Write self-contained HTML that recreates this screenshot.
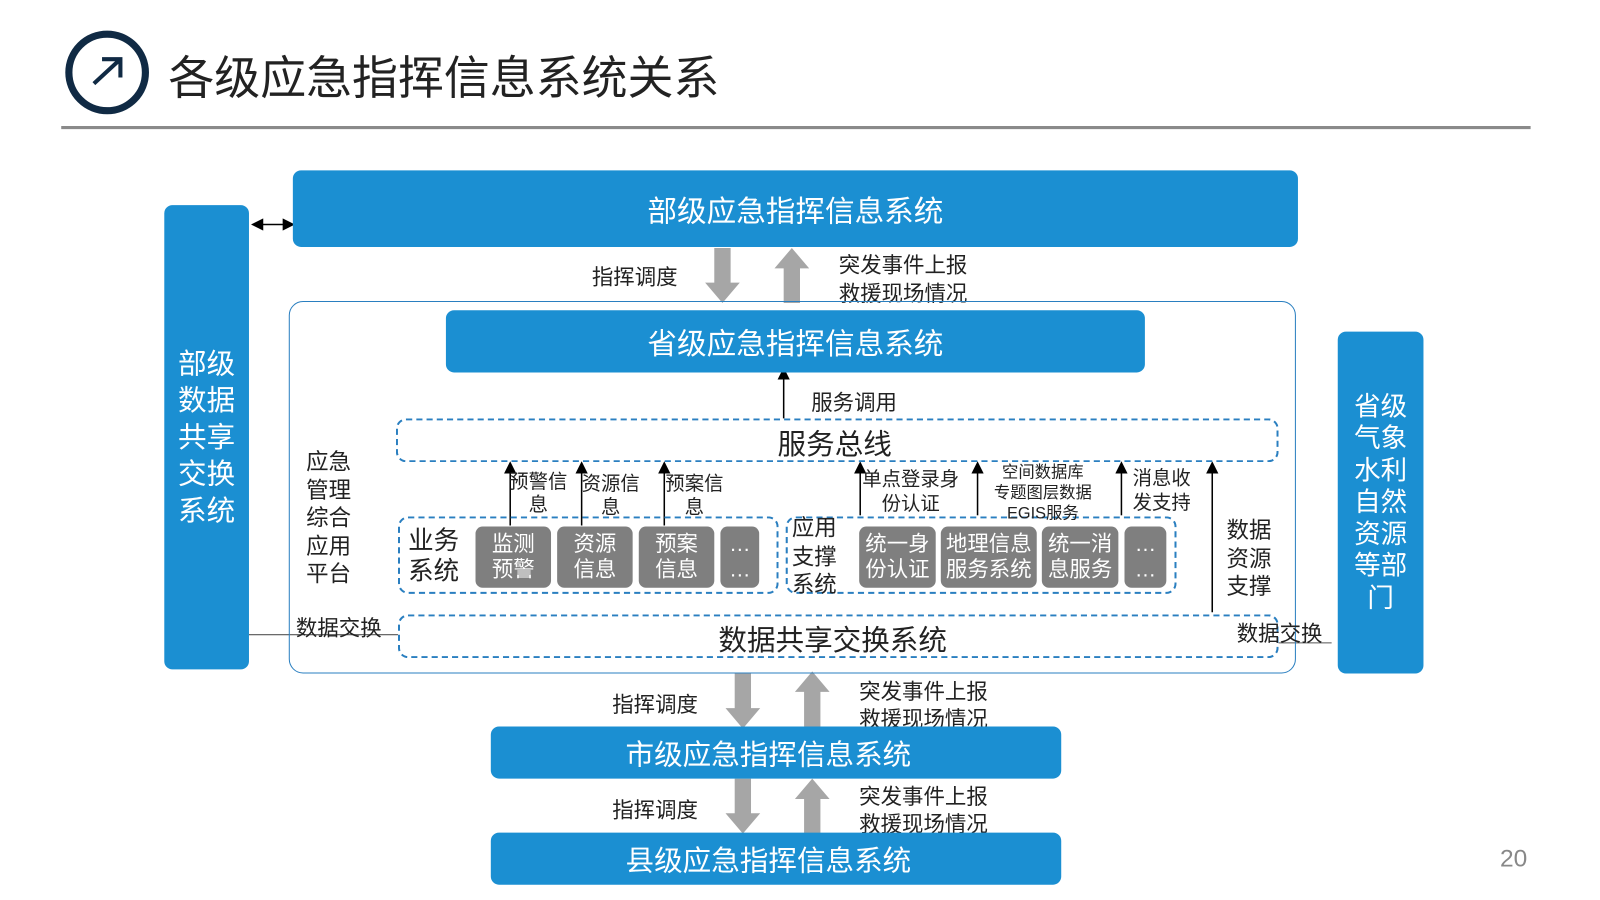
<!DOCTYPE html>
<html><head><meta charset="utf-8"><style>
html,body{margin:0;padding:0;background:#fff;overflow:hidden}
#w{position:relative;width:1568px;height:882px;transform:scale(1.020408);transform-origin:0 0;font-family:"Liberation Sans","Noto Sans CJK SC",sans-serif;color:#222}
.a{position:absolute}
.blue{position:absolute;background:#1b8fd2;border-radius:8px;color:#fff;display:flex;align-items:center;justify-content:center}
.dash{position:absolute;border:2.5px dashed #2a7fc0;border-radius:10px;box-sizing:border-box}
.g{position:absolute;background:#7f7f7f;color:#fff;border-radius:7px;font-size:21px;line-height:25px;text-align:center;display:flex;align-items:center;justify-content:center;top:516px;height:60px}
.t{position:absolute;white-space:nowrap}
</style></head><body><div id="w">
<div class="a" style="left:64px;top:30px;width:68px;height:68px;border:7px solid #102a44;border-radius:50%"></div>
<svg class="a" style="left:0;top:0" width="1568" height="882">
<path d="M92 82 L118 58 M100 58 L118 58 L118 76" stroke="#102a44" stroke-width="4" fill="none"/>
<line x1="60" y1="125" x2="1500" y2="125" stroke="#8a8a8a" stroke-width="3"/>
<defs><marker id="m" markerWidth="8" markerHeight="8" refX="4" refY="4" orient="auto"><path d="M0,0 L8,4 L0,8z" fill="#000"/></marker>
<marker id="m2" markerWidth="8" markerHeight="8" refX="4" refY="4" orient="auto-start-reverse"><path d="M0,0 L8,4 L0,8z" fill="#000"/></marker></defs>
<line x1="252" y1="220" x2="283" y2="220" stroke="#000" stroke-width="1.5" marker-end="url(#m2)" marker-start="url(#m2)"/>
<g fill="#a6a6a6">
<path d="M700 243h16v34h9l-17 20-17-20h9z"/><path d="M768 297h16v-34h9l-17-20-17 20h9z"/>
<path d="M720 660h16v34h9l-17 20-17-20h9z"/><path d="M788 712h16v-34h9l-17-20-17 20h9z"/>
<path d="M720 763h16v34h9l-17 20-17-20h9z"/><path d="M788 817h16v-34h9l-17-20-17 20h9z"/>
</g>
<g stroke="#000" stroke-width="1.5" marker-end="url(#m)">
<line x1="768" y1="410" x2="768" y2="366"/>
<line x1="500" y1="515" x2="500" y2="458"/><line x1="570" y1="515" x2="570" y2="458"/><line x1="651" y1="515" x2="651" y2="458"/>
<line x1="843" y1="505" x2="843" y2="458"/><line x1="958" y1="505" x2="958" y2="458"/><line x1="1099" y1="505" x2="1099" y2="458"/>
<line x1="1188" y1="600" x2="1188" y2="458"/>
</g>
<line x1="244" y1="622" x2="390" y2="622" stroke="#555" stroke-width="1"/>
<line x1="1253" y1="630" x2="1305" y2="630" stroke="#555" stroke-width="1"/>
</svg>
<div class="t" style="left:165px;top:40px;font-size:45px">各级应急指挥信息系统关系</div>
<div class="blue" style="left:287px;top:167px;width:985px;height:75px;font-size:29px">部级应急指挥信息系统</div>
<div class="blue" style="left:161px;top:201px;width:83px;height:455px;font-size:28px;line-height:36px;text-align:center">部级<br>数据<br>共享<br>交换<br>系统</div>
<div class="t" style="left:580px;top:256px;font-size:21px">指挥调度</div>
<div class="t" style="left:822px;top:247px;font-size:21px;line-height:28px">突发事件上报<br>救援现场情况</div>
<div class="a" style="left:283px;top:295px;width:987px;height:365px;border:1.5px solid #2a7fc0;border-radius:14px;box-sizing:border-box"></div>
<div class="blue" style="left:437px;top:304px;width:685px;height:61px;font-size:29px">省级应急指挥信息系统</div>
<div class="t" style="left:795px;top:379px;font-size:21px">服务调用</div>
<div class="dash" style="left:388px;top:410px;width:865px;height:43px"></div>
<div class="t" style="left:762px;top:414px;font-size:28px">服务总线</div>
<div class="t" style="left:300px;top:439px;font-size:22px;line-height:27.5px">应急<br>管理<br>综合<br>应用<br>平台</div>
<div class="dash" style="left:390px;top:506px;width:373px;height:76px"></div>
<div class="t" style="left:400px;top:515px;font-size:25px;line-height:30px">业务<br>系统</div>
<div class="g" style="left:466px;width:74px">监测<br>预警</div>
<div class="g" style="left:546px;width:74px">资源<br>信息</div>
<div class="g" style="left:626px;width:74px">预案<br>信息</div>
<div class="g" style="left:706px;width:38px">…<br>…</div>
<div class="dash" style="left:770px;top:506px;width:383px;height:76px"></div>
<div class="t" style="left:776px;top:504px;font-size:22px;line-height:27.5px">应用<br>支撑<br>系统</div>
<div class="g" style="left:842px;width:75px">统一身<br>份认证</div>
<div class="g" style="left:922px;width:94px">地理信息<br>服务系统</div>
<div class="g" style="left:1021px;width:75px">统一消<br>息服务</div>
<div class="g" style="left:1102px;width:41px">…<br>…</div>
<div class="t" style="left:499px;top:461px;font-size:19px;line-height:23px;text-align:center">预警信<br>息</div>
<div class="t" style="left:570px;top:463px;font-size:19px;line-height:23px;text-align:center">资源信<br>息</div>
<div class="t" style="left:652px;top:463px;font-size:19px;line-height:23px;text-align:center">预案信<br>息</div>
<div class="t" style="left:845px;top:459px;font-size:19px;line-height:24px;text-align:center">单点登录身<br>份认证</div>
<div class="t" style="left:974px;top:454px;font-size:16px;line-height:20px;text-align:center">空间数据库<br>专题图层数据<br>EGIS服务</div>
<div class="t" style="left:1110px;top:458px;font-size:19px;line-height:24px">消息收<br>发支持</div>
<div class="t" style="left:1202px;top:506px;font-size:22px;line-height:27.5px">数据<br>资源<br>支撑</div>
<div class="dash" style="left:390px;top:602px;width:863px;height:43px"></div>
<div class="t" style="left:704px;top:606px;font-size:28px">数据共享交换系统</div>
<div class="t" style="left:290px;top:600px;font-size:21px">数据交换</div>
<div class="t" style="left:1212px;top:605px;font-size:21px">数据交换</div>
<div class="blue" style="left:1311px;top:325px;width:84px;height:335px;font-size:26px;line-height:31.3px;text-align:center">省级<br>气象<br>水利<br>自然<br>资源<br>等部<br>门</div>
<div class="t" style="left:600px;top:675px;font-size:21px">指挥调度</div>
<div class="t" style="left:842px;top:665px;font-size:21px;line-height:27px">突发事件上报<br>救援现场情况</div>
<div class="blue" style="left:481px;top:712px;width:559px;height:51px;font-size:28px;justify-content:flex-start;padding-left:132px;box-sizing:border-box">市级应急指挥信息系统</div>
<div class="t" style="left:600px;top:778px;font-size:21px">指挥调度</div>
<div class="t" style="left:842px;top:768px;font-size:21px;line-height:27px">突发事件上报<br>救援现场情况</div>
<div class="blue" style="left:481px;top:816px;width:559px;height:51px;font-size:28px;justify-content:flex-start;padding-left:132px;box-sizing:border-box">县级应急指挥信息系统</div>
<div class="t" style="left:1470px;top:828px;font-size:24px;color:#888">20</div>
</div></body></html>
